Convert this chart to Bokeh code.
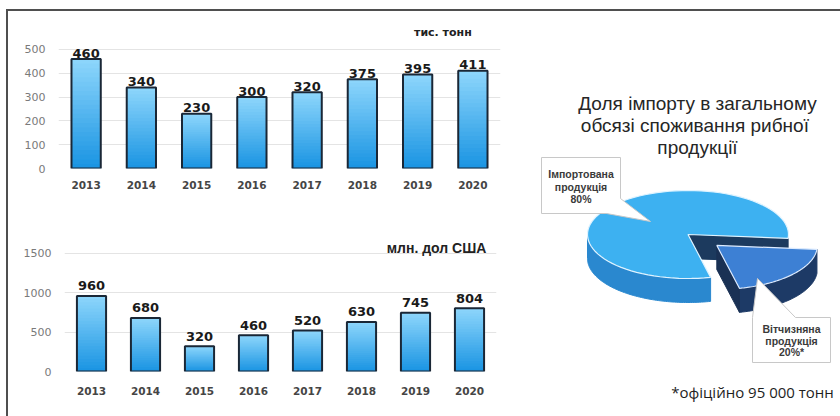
import numpy as np
from bokeh.plotting import figure
from bokeh.layouts import row, column
from bokeh.models import FactorRange, Range1d
from bokeh.core.properties import value
from bokeh.embed import file_html
from bokeh.resources import INLINE

# ---------------- data ----------------
years = ["2013", "2014", "2015", "2016", "2017", "2018", "2019", "2020"]
volume_kt = [460, 340, 230, 300, 320, 375, 395, 411]
value_musd = [960, 680, 320, 460, 520, 630, 745, 804]
volume_ticks = [0, 100, 200, 300, 400, 500]
value_ticks = [0, 500, 1000, 1500]
volume_unit = "тис. тонн"
value_unit = "млн. дол США"
pie_title = ["Доля імпорту в загальному", "обсязі споживання  рибної", "продукції"]
pie_names = [["Імпортована", "продукція"], ["Вітчизняна", "продукція"]]
pie_shares = [80, 20]
pie_marks = ["", "*"]
footnote = "*офіційно 95 000 тонн"


def hex2rgb(h):
    h = h.lstrip("#")
    return [int(h[i:i + 2], 16) for i in (0, 2, 4)]


def mix(c0, c1, t):
    a, b = hex2rgb(c0), hex2rgb(c1)
    return "#%02x%02x%02x" % tuple(int(round(a[i] + (b[i] - a[i]) * t)) for i in range(3))


def bar_chart(vals, ticks, yend, unit, w, h, bl, br, bt, bb, bar_w,
              lab_off, unit_dx, unit_y, unit_font, unit_size, x_standoff, y_standoff):
    p = figure(x_range=FactorRange(factors=years, range_padding=0),
               y_range=Range1d(0, yend), width=w, height=h,
               output_backend="svg", toolbar_location=None,
               min_border_left=bl, min_border_right=br,
               min_border_top=bt, min_border_bottom=bb)
    p.outline_line_color = None
    p.background_fill_color = "white"
    p.border_fill_color = "white"
    p.xgrid.grid_line_color = None
    p.yaxis.ticker = ticks
    p.ygrid.grid_line_color = "#e4e4e4"
    p.ygrid.grid_line_width = 1
    for ax in (p.xaxis[0], p.yaxis[0]):
        ax.axis_line_color = None
        ax.major_tick_line_color = None
        ax.minor_tick_line_color = None
        ax.major_tick_out = 0
        ax.major_tick_in = 0
    p.yaxis.major_label_standoff = y_standoff
    p.yaxis.major_label_text_font = "DejaVu Sans"
    p.yaxis.major_label_text_font_size = "11px"
    p.yaxis.major_label_text_color = "#7a7a7a"
    p.xaxis.major_label_standoff = x_standoff
    p.xaxis.major_label_text_font = "DejaVu Sans"
    p.xaxis.major_label_text_font_style = "bold"
    p.xaxis.major_label_text_font_size = "10.5px"
    p.xaxis.major_label_text_color = "#454545"

    # gradient bars: overlapping layers of each value, lighter towards the top
    K = 24
    xs, bots, tops, cols = [], [], [], []
    for i in range(K):
        for yr, v in zip(years, vals):
            xs.append(yr)
            bots.append(v * i / K)
            tops.append(v)
            cols.append(mix("#1b95e3", "#8cd5fb", i / (K - 1)))
    p.vbar(x=xs, bottom=bots, top=tops, width=bar_w, fill_color=cols,
           line_color=None)
    p.vbar(x=years, top=vals, width=bar_w, fill_color=None,
           line_color="#1a2736", line_width=2)
    p.text(x=years, y=vals, text=[str(v) for v in vals], text_align="center",
           text_baseline="alphabetic", y_offset=-lab_off,
           text_font=value("DejaVu Sans"), text_font_style="bold",
           text_font_size="13px", text_color="#1a1a1a")
    p.text(x=[years[-1]], y=[unit_y], text=[unit], x_offset=unit_dx,
           text_align="center", text_baseline="middle",
           text_font=value(unit_font), text_font_style="bold",
           text_font_size=unit_size, text_color="#222222")
    return p


p1 = bar_chart(volume_kt, volume_ticks, 605, volume_unit, 510, 194,
               50, 18, 13, 37, 0.53, 6, -30, 571, "DejaVu Sans", "11px", 12, 13)
p2 = bar_chart(value_musd, value_ticks, 1766, value_unit, 510, 211,
               56, 22, 27, 45, 0.54, 10, -33, 1575, "Liberation Sans", "14px", 15, 13)

# ---------------- pie panel ----------------
p3 = figure(width=322, height=405, x_range=Range1d(518, 840),
            y_range=Range1d(416, 11), output_backend="svg",
            toolbar_location=None, min_border=0)
p3.axis.visible = False
p3.grid.visible = False
p3.outline_line_color = None
p3.background_fill_color = "white"
p3.border_fill_color = "white"

cx, cy, rx, ry, depth = 687.5, 234.0, 100.5, 44.0, 24.0
a_dom0 = 5.0
a_dom1 = a_dom0 + 360.0 * pie_shares[1] / sum(pie_shares)
a_imp0, a_imp1 = a_dom1, a_dom0 + 360.0


def arc(a0, a1, ox=0.0, oy=0.0, dz=0.0, n=80):
    t = np.radians(np.linspace(a0, a1, n))
    return cx + ox + rx * np.cos(t), cy + oy + ry * np.sin(t) + dz


def wall(a0, a1, ox=0.0, oy=0.0):
    x1, y1 = arc(a0, a1, ox, oy)
    x2, y2 = arc(a0, a1, ox, oy, depth)
    return list(x1) + list(x2[::-1]), list(y1) + list(y2[::-1])


def radial(a, ox=0.0, oy=0.0):
    ex = cx + ox + rx * np.cos(np.radians(a))
    ey = cy + oy + ry * np.sin(np.radians(a))
    return ([cx + ox, ex, ex, cx + ox], [cy + oy, ey, ey + depth, cy + oy + depth])


def top(a0, a1, ox=0.0, oy=0.0):
    x, y = arc(a0, a1, ox, oy)
    return [cx + ox] + list(x) + [cx + ox], [cy + oy] + list(y) + [cy + oy]


# imported (big) slice
wx, wy = wall(max(a_imp0, 0), 180)
p3.patch(wx, wy, fill_color="#2a88cf", line_color="#2a88cf")
rx_, ry_ = radial(a_imp1)
p3.patch(rx_, ry_, fill_color="#1c3a5e", line_color="#1c3a5e")
tx, ty = top(a_imp0, a_imp1)
p3.patch(tx, ty, fill_color="#3db1f1", line_color="#dff3ff", line_width=1.2)

# domestic (exploded) slice
mid = np.radians((a_dom0 + a_dom1) / 2)
d = 0.38
ox, oy = rx * d * np.cos(mid), ry * d * np.sin(mid)
wx, wy = wall(a_dom0, a_dom1, ox, oy)
p3.patch(wx, wy, fill_color="#1d3a66", line_color="#1d3a66")
rx_, ry_ = radial(a_dom1, ox, oy)
p3.patch(rx_, ry_, fill_color="#1a3154", line_color="#1a3154")
tx, ty = top(a_dom0, a_dom1, ox, oy)
p3.patch(tx, ty, fill_color="#3d80d4", line_color="#dcebff", line_width=1.2)

# callouts
p3.patch([541, 620, 620, 650, 606, 541], [157, 157, 198, 221, 213, 213],
         fill_color="white", line_color="#c8c8c8", line_width=1)
p3.patch([752, 757, 795, 830, 830, 752], [317, 278, 317, 317, 362, 362],
         fill_color="white", line_color="#c8c8c8", line_width=1)

lab_font = dict(text_font=value("Liberation Sans"), text_font_style="bold",
                text_font_size="10.5px", text_color="#3a3a3a",
                text_align="center", text_baseline="middle")
imp_lines = pie_names[0] + [f"{pie_shares[0]}%{pie_marks[0]}"]
dom_lines = pie_names[1] + [f"{pie_shares[1]}%{pie_marks[1]}"]
p3.text(x=[580.5] * 3, y=[173, 186, 198], text=imp_lines, **lab_font)
p3.text(x=[791] * 3, y=[328, 340, 351], text=dom_lines, **lab_font)

p3.text(x=[697] * 3, y=[103, 125, 147], text=pie_title, text_align="center",
        text_baseline="middle", text_font=value("Liberation Sans"),
        text_font_size="19px", text_color="#262626")
p3.text(x=[752], y=[391], text=[footnote], text_align="center",
        text_baseline="middle", text_font=value("Open Sans"),
        text_font_size="15px", text_color="#1e1e1e")

layout = row(column(row(p1), row(p2)), p3, margin=(9, 0, 0, 6),
             styles={"border-top": "2px solid #4f4f4f",
                     "border-left": "2px solid #4f4f4f"})

open("out.html", "w").write(file_html(layout, INLINE))
